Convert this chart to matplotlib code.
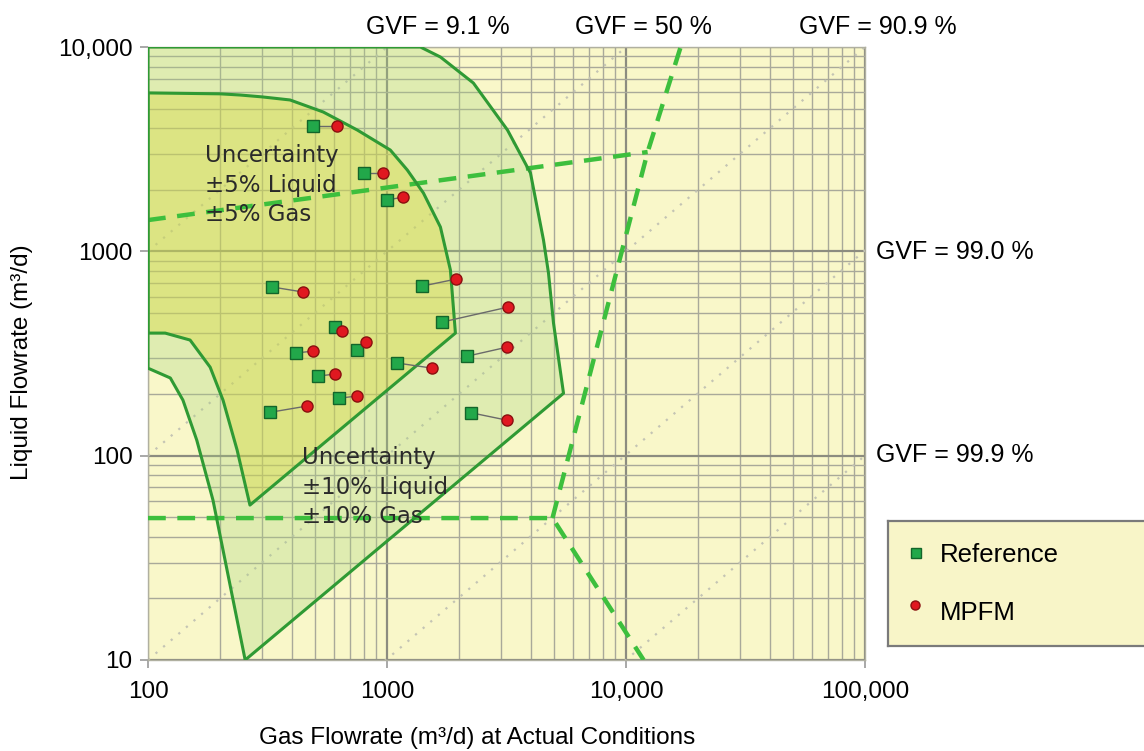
import numpy as np
import matplotlib.pyplot as plt
from matplotlib.patches import Polygon
from matplotlib.ticker import FixedLocator, FixedFormatter, LogLocator, NullFormatter

plt.rcParams['font.family'] = ['Liberation Sans', 'DejaVu Sans']

W, H = 1144, 751

# reference meter vs MPFM readings (gas m3/d, liquid m3/d)
ref_gas = [491, 803, 1003, 331, 1405, 1705, 607, 417, 751, 1104, 2170, 515, 631, 324, 2256]
ref_liq = [4105, 2417, 1783, 669, 676, 451, 426, 318, 329, 284, 307, 245, 191, 163, 162]
mpfm_gas = [619, 965, 1170, 446, 1951, 3222, 650, 491, 819, 1548, 3192, 607, 751, 464, 3192]
mpfm_liq = [4105, 2417, 1844, 632, 732, 534, 407, 325, 360, 268, 340, 251, 196, 175, 149]

# operating envelope, +-5 % uncertainty
env5_gas = [100, 200, 243, 300, 393, 541, 751, 1032, 1216, 1420, 1673, 1842, 1933,
            267, 236, 206, 182, 150, 118, 100]
env5_liq = [5960, 5900, 5821, 5700, 5505, 4807, 3924, 3132, 2500, 1930, 1315, 810, 398,
            57.3, 106.5, 187, 271, 368, 398, 398]

# operating envelope, +-10 % uncertainty
env10_gas = [100, 1379, 1673, 2298, 3192, 3984, 4516, 4739, 4973, 5477,
             255, 187, 160, 140, 124, 100]
env10_liq = [10000, 10000, 8933, 6665, 3924, 2417, 1136, 783, 446, 202,
             10, 60.6, 119, 187, 240, 268]

# dashed limit lines
lim_upper_gas = [100, 12317]
lim_upper_liq = [1422, 3062]
lim_steep_gas = [4925, 12317, 16930]
lim_steep_liq = [49.5, 3062, 10000]
lim_low_gas = [100, 4925, 11850]
lim_low_liq = [49.5, 49.5, 10]

# GVF lines: liquid = gas * ratio
gvf_ratio = [10, 1, 0.1, 1 / 99, 1 / 999]

x_ticks = [100, 1000, 10000, 100000]
x_labels = ['100', '1000', '10,000', '100,000']
y_ticks = [10, 100, 1000, 10000]
y_labels = ['10', '100', '1000', '10,000']

bg = '#f9f7c9'
green_line = '#2f9a34'
fs = 17.5

fig = plt.figure(figsize=(W / 100, H / 100), dpi=100)
ax = fig.add_axes([148 / W, 1 - 660 / H, (865 - 148) / W, (660 - 47) / H])
ax.set_facecolor(bg)
ax.set_xscale('log')
ax.set_yscale('log')
ax.set_xlim(100, 100000)
ax.set_ylim(10, 10000)

# grid
ax.set_axisbelow(True)
ax.xaxis.set_minor_locator(LogLocator(base=10, subs=np.arange(2, 10)))
ax.yaxis.set_minor_locator(LogLocator(base=10, subs=np.arange(2, 10)))
ax.xaxis.set_minor_formatter(NullFormatter())
ax.yaxis.set_minor_formatter(NullFormatter())
ax.grid(True, which='major', color='#8c8c80', lw=1.6)
ax.grid(True, which='minor', color='#a9a99a', lw=1.0)
ax.tick_params(which='minor', length=0)
ax.tick_params(which='major', length=6, color='#999999', width=1.2,
               labelsize=fs, pad=5)
ax.xaxis.set_major_locator(FixedLocator(x_ticks))
ax.xaxis.set_major_formatter(FixedFormatter(x_labels))
ax.yaxis.set_major_locator(FixedLocator(y_ticks))
ax.yaxis.set_major_formatter(FixedFormatter(y_labels))
ax.tick_params(axis='x', pad=9)
for s in ax.spines.values():
    s.set_color('#b0b0a0')
    s.set_linewidth(1.0)

# GVF dotted lines
g = np.array([100, 1e6])
for r in gvf_ratio:
    ax.plot(g, g * r, color='#c4c4b4', lw=1.6, ls=(0, (1, 3.5)), zorder=1.5)

# envelopes
env10 = np.column_stack([env10_gas, env10_liq])
env5 = np.column_stack([env5_gas, env5_liq])
ax.add_patch(Polygon(env10, closed=True, facecolor='#a6d47a', alpha=0.30,
                     edgecolor='none', zorder=2))
ax.add_patch(Polygon(env10, closed=True, facecolor='none', edgecolor=green_line,
                     lw=2.2, joinstyle='round', zorder=4))
ax.add_patch(Polygon(env5, closed=True, facecolor='#d8d840', alpha=0.40,
                     edgecolor='none', zorder=2.5))
ax.add_patch(Polygon(env5, closed=True, facecolor='none', edgecolor=green_line,
                     lw=2.2, joinstyle='round', zorder=4))

# dashed limits
dash = dict(color='#3dbf3d', lw=3.2, ls=(0, (4, 2.6)), zorder=3.5,
            dash_capstyle='butt')
ax.plot(lim_upper_gas, lim_upper_liq, **dash)
ax.plot(lim_steep_gas, lim_steep_liq, **dash)
ax.plot(lim_low_gas, lim_low_liq, **dash)

# data pairs
for xg, yl, xm, ym in zip(ref_gas, ref_liq, mpfm_gas, mpfm_liq):
    ax.plot([xg, xm], [yl, ym], color='#6a6a6a', lw=1.0, zorder=5)
ax.plot(ref_gas, ref_liq, ls='none', marker='s', ms=8.5, mfc='#22a84a',
        mec='#13652a', mew=1.0, zorder=6)
ax.plot(mpfm_gas, mpfm_liq, ls='none', marker='o', ms=8, mfc='#e01820',
        mec='#8a1010', mew=1.0, zorder=7)

# region labels
ax.text(173, 2111, 'Uncertainty\n±5% Liquid\n±5% Gas', fontsize=16.5,
        family=['DejaVu Sans'], color='#2a2a2a', va='center', ha='left',
        linespacing=1.38, zorder=8)
ax.text(442, 70.2, 'Uncertainty\n±10% Liquid\n±10% Gas', fontsize=16.5,
        family=['DejaVu Sans'], color='#2a2a2a', va='center', ha='left',
        linespacing=1.38, zorder=8)

# axis labels
fig.text(22 / W, 1 - 362 / H, 'Liquid Flowrate (m³/d)', rotation=90,
         ha='center', va='center', fontsize=fs)
fig.text(477 / W, 1 - 738 / H, 'Gas Flowrate (m³/d) at Actual Conditions',
         ha='center', va='center', fontsize=fs)

# GVF labels
for txt, px in [('GVF = 9.1 %', 438), ('GVF = 50 %', 643), ('GVF = 90.9 %', 878)]:
    fig.text(px / W, 1 - 27 / H, txt, ha='center', va='center', fontsize=18)
fig.text(876 / W, 1 - 252 / H, 'GVF = 99.0 %', ha='left', va='center', fontsize=18)
fig.text(876 / W, 1 - 455 / H, 'GVF = 99.9 %', ha='left', va='center', fontsize=18)

# legend box
lax = fig.add_axes([888 / W, 1 - 646 / H, 300 / W, 125 / H])
lax.set_xlim(0, 300)
lax.set_ylim(125, 0)
lax.set_facecolor('#f8f5c8')
for s in lax.spines.values():
    s.set_color('#7a7a7a')
    s.set_linewidth(1.6)
lax.set_xticks([])
lax.set_yticks([])
lax.plot([28], [32], ls='none', marker='s', ms=7, mfc='#22a84a', mec='#13652a', mew=1.0)
lax.plot([27], [84], ls='none', marker='o', ms=6.5, mfc='#e01820', mec='#8a1010', mew=1.0)
lax.text(52, 34, 'Reference', fontsize=18.5, va='center', ha='left')
lax.text(52, 92, 'MPFM', fontsize=18.5, va='center', ha='left')

fig.savefig('out.png', dpi=100, facecolor='white')
